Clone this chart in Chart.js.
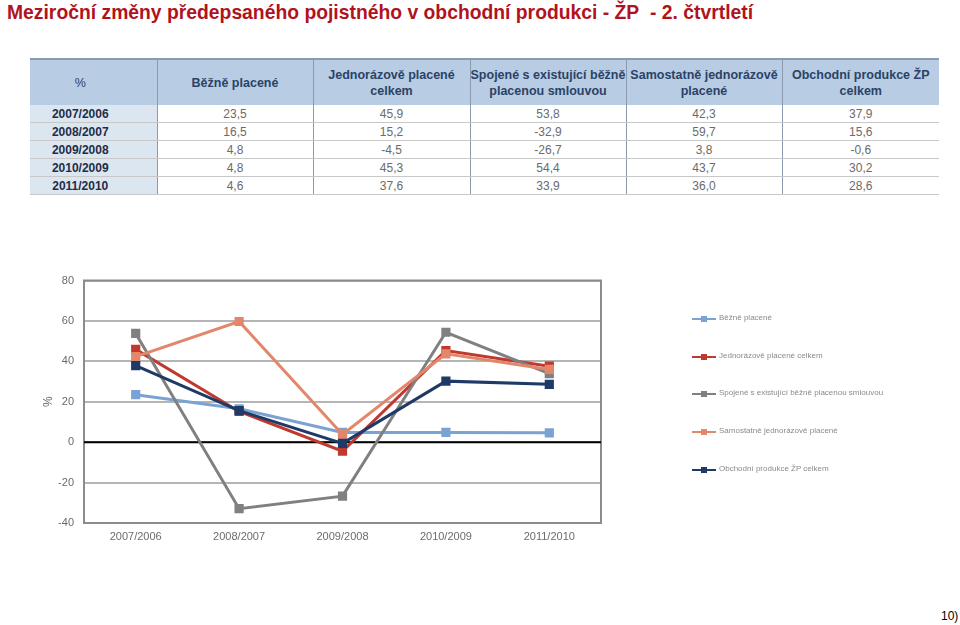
<!DOCTYPE html>
<html>
<head>
<meta charset="utf-8">
<script src="https://cdn.jsdelivr.net/npm/chart.js@4"></script>
<style>
  body { margin: 0; background: #fff; font-family: "Liberation Sans", Arial, sans-serif; }
  #page { position: relative; width: 960px; height: 625px; overflow: hidden; }
  #title { position: absolute; left: 7px; top: 0px; font-family: "Liberation Sans Narrow", "Arial Narrow", "Liberation Sans", sans-serif; font-weight: bold; font-size: 21px; color: #b0131d; white-space: nowrap; transform: scaleX(0.92); transform-origin: 0 0; }
  table { position: absolute; left: 30px; top: 58px; border-collapse: collapse; table-layout: fixed; }
  th { background: #b8cce4; color: #2a4366; font-size: 12.5px; font-weight: bold; height: 45px; padding: 0; border-top: 2px solid #8a9bb0; border-left: 1px solid #8a9bb0; line-height: 16px; }
  th:first-child { border-left: none; padding-right: 26px; font-weight: normal; }
  td { height: 17px; padding: 0; font-size: 12px; color: #6b6b6b; text-align: center; border-bottom: 1px solid #c8c8c8; border-left: 1px solid #8a9bb0; line-height: 16px; }
  td.lab { background: #dce6f1; color: #1f2d46; font-weight: bold; border-left: none; padding-right: 26px; }
  #chart-wrap { position: absolute; left: 0; top: 262px; width: 960px; height: 300px; }
  #legend { position: absolute; left: 692px; top: 0; }
  .li { position: absolute; left: 0; white-space: nowrap; font-size: 8px; color: #8a8a8a; }
  .li .ln { position: absolute; left: 0; top: 0; width: 24px; height: 2px; }
  .li .mk { position: absolute; left: 9px; top: -2px; width: 6px; height: 6px; }
  .li .tx { position: absolute; left: 27px; top: -5px; }
  #foot { position: absolute; left: 941px; top: 609px; font-size: 12px; color: #000; }
</style>
</head>
<body>
<div id="page">
  <div id="title">Meziroční změny předepsaného pojistného v obchodní produkci - ŽP&nbsp; - 2. čtvrtletí</div>
  <table id="tbl"></table>
  <div id="chart-wrap"><canvas id="lineChart" width="960" height="300"></canvas></div>
  <div id="legend"></div>
  <div id="foot">10)</div>
</div>
<script>
const periods = ['2007/2006', '2008/2007', '2009/2008', '2010/2009', '2011/2010'];
const seriesNames = [
    'Běžně placené',
    'Jednorázově placené celkem',
    'Spojené s existující běžně placenou smlouvou',
    'Samostatně jednorázově placené',
    'Obchodní produkce ŽP celkem'
];
const headerLabels = ['%', 'Běžně placené', 'Jednorázově placené celkem', 'Spojené s existující běžně placenou smlouvou', 'Samostatně jednorázově placené', 'Obchodní produkce ŽP celkem'];
const bezne = [23.5, 16.5, 4.8, 4.8, 4.6];
const jednorazove = [45.9, 15.2, -4.5, 45.3, 37.6];
const spojene = [53.8, -32.9, -26.7, 54.4, 33.9];
const samostatne = [42.3, 59.7, 3.8, 43.7, 36.0];
const celkem = [37.9, 15.6, -0.6, 30.2, 28.6];
const yTicks = [-40, -20, 0, 20, 40, 60, 80];

const seriesValues = [bezne, jednorazove, spojene, samostatne, celkem];
const seriesColors = ['#7aa3d3', '#c0392f', '#808080', '#e3876a', '#1f3a66'];

// Table
const colWidths = [127, 156, 157, 156, 156, 157];
const tbl = document.getElementById('tbl');
let html = '<colgroup>' + colWidths.map(w => `<col style="width:${w}px">`).join('') + '</colgroup>';
html += '<tr>' + headerLabels.map(h => `<th>${h}</th>`).join('') + '</tr>';
periods.forEach((p, i) => {
    html += `<tr><td class="lab">${p}</td>` +
        seriesValues.map(s => `<td>${s[i].toFixed(1).replace('.', ',')}</td>`).join('') + '</tr>';
});
tbl.innerHTML = html;

// Legend
const legendDiv = document.getElementById('legend');
const legendY = [318, 356, 393, 431, 469];
seriesNames.forEach((name, i) => {
    const item = document.createElement('div');
    item.className = 'li';
    item.style.top = legendY[i] + 'px';
    item.innerHTML = `<span class="ln" style="background:${seriesColors[i]}"></span>` +
        `<span class="mk" style="background:${seriesColors[i]}"></span><span class="tx">${name}</span>`;
    legendDiv.appendChild(item);
});

// Frame around the plot area + black zero line
const frame = {
    id: 'frame',
    beforeDatasetsDraw(chart) {
        const a = chart.chartArea;
        const ctx = chart.ctx;
        ctx.save();
        ctx.strokeStyle = '#8c8c8c';
        ctx.lineWidth = 2;
        ctx.strokeRect(a.left, a.top, a.right - a.left, a.bottom - a.top);
        const y0 = chart.scales.y.getPixelForValue(0);
        ctx.strokeStyle = '#000';
        ctx.beginPath();
        ctx.moveTo(a.left, y0);
        ctx.lineTo(a.right, y0);
        ctx.stroke();
        ctx.restore();
    }
};

new Chart(document.getElementById('lineChart').getContext('2d'), {
    type: 'line',
    data: {
        labels: periods,
        datasets: seriesNames.map((name, i) => ({
            label: name,
            data: seriesValues[i],
            borderColor: seriesColors[i],
            backgroundColor: seriesColors[i],
            borderWidth: 3,
            pointStyle: 'rect',
            pointRadius: 6.5,
            pointBorderWidth: 0,
            tension: 0,
            fill: false,
            order: seriesNames.length - i
        }))
    },
    options: {
        responsive: false,
        animation: false,
        layout: { padding: { top: 18.5, right: 359, bottom: 0, left: 0 } },
        plugins: { legend: { display: false }, tooltip: { enabled: false } },
        scales: {
            x: {
                offset: true,
                grid: { display: false, drawTicks: false },
                border: { display: false },
                ticks: { color: '#6b6b6b', font: { family: 'Liberation Sans', size: 11 }, padding: 7, maxRotation: 0 },
                afterFit(scale) { scale.height = 39; }
            },
            y: {
                min: -40,
                max: 80,
                afterBuildTicks(scale) { scale.ticks = yTicks.map(v => ({ value: v })); },
                grid: { color: '#b5b5b5', lineWidth: 2, drawTicks: false },
                border: { display: false },
                ticks: { color: '#6b6b6b', font: { family: 'Liberation Sans', size: 11 }, padding: 10 },
                title: { display: true, text: '%', color: '#6b6b6b', font: { family: 'Liberation Sans', size: 12 }, padding: { top: 41, bottom: 0 } },
                afterFit(scale) { scale.width = 84; }
            }
        }
    },
    plugins: [frame]
});
</script>
</body>
</html>
